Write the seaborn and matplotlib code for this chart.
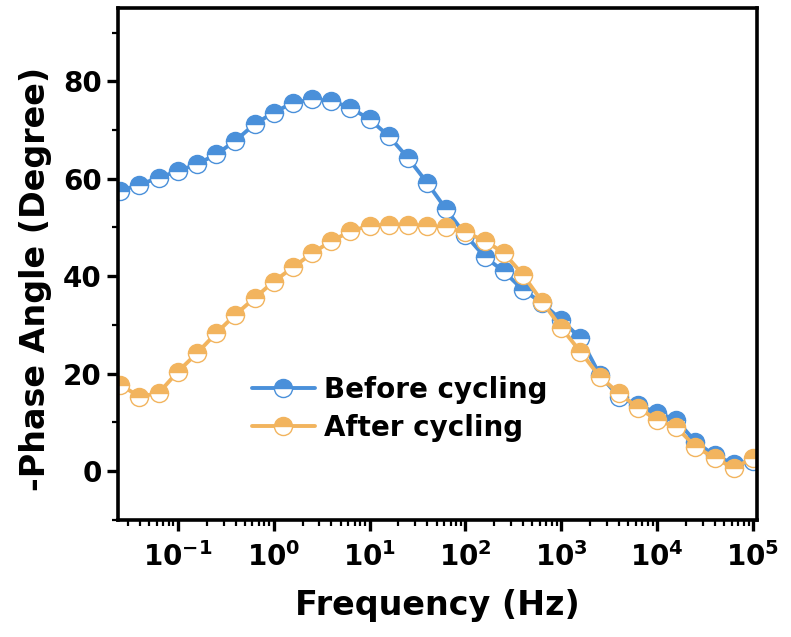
import matplotlib
matplotlib.use('Agg')
import matplotlib.pyplot as plt
from matplotlib.ticker import MultipleLocator, LogLocator, NullFormatter
import pandas as pd
import seaborn as sns

FREQ = [
    0.0251, 0.0398, 0.0631, 0.1, 0.1585, 0.251, 0.398, 0.631,
    1.0, 1.585, 2.51, 3.98, 6.31, 10.0, 15.85, 25.1, 39.8, 63.1,
    100.0, 158.5, 251.0, 398.0, 631.0, 1000.0, 1585.0, 2512.0, 3981.0, 6310.0,
    10000.0, 15849.0, 25119.0, 39811.0, 63096.0, 100000.0,
]

BEFORE = [
    57.5, 58.8, 60.2, 61.6, 63.0, 65.0, 67.8, 71.2,
    73.6, 75.6, 76.3, 76.0, 74.6, 72.2, 68.8, 64.3, 59.2, 53.7,
    48.5, 44.0, 41.0, 37.2, 34.5, 31.0, 27.3, 19.8, 15.2, 13.5,
    12.0, 10.5, 6.0, 3.2, 1.5, 2.0,
]

AFTER = [
    17.7, 15.3, 16.0, 20.4, 24.2, 28.3, 32.1, 35.5,
    38.9, 41.8, 44.7, 47.2, 49.2, 50.4, 50.6, 50.6, 50.3, 50.0,
    49.0, 47.3, 44.8, 40.3, 34.8, 29.4, 24.5, 19.4, 16.0, 13.0,
    10.5, 9.0, 5.0, 2.7, 0.6, 2.7,
]

XTICKS = [0.1, 1, 10, 100, 1000, 10000, 100000]
XTICKLABELS = ['$10^{-1}$', '$10^{0}$', '$10^{1}$', '$10^{2}$',
               '$10^{3}$', '$10^{4}$', '$10^{5}$']

SERIES = ['Before cycling', 'After cycling']
COLOURS = ['#4A90DA', '#F2B45E']

sns.set_style('ticks')
plt.rcParams['font.family'] = ['DejaVu Sans']
plt.rcParams['font.weight'] = 'bold'
plt.rcParams['mathtext.default'] = 'bf'
for key in ['text.color', 'axes.labelcolor', 'xtick.color', 'ytick.color', 'axes.edgecolor']:
    plt.rcParams[key] = 'black'

df = pd.DataFrame({'freq': FREQ, SERIES[0]: BEFORE, SERIES[1]: AFTER})

fig = plt.figure(figsize=(7.91, 6.37), dpi=100)
ax = fig.add_axes([0.149, 0.184, 0.808, 0.803])

for name, colour in zip(SERIES, COLOURS):
    sns.lineplot(data=df, x='freq', y=name, ax=ax, color=colour, label=name,
                 linewidth=2.8, marker='o', markersize=13, fillstyle='top',
                 markerfacecolor=colour, markerfacecoloralt='white',
                 markeredgecolor=colour, markeredgewidth=1.0)

ax.set_xscale('log')
ax.set_xlim(0.0237, 1.1e5)
ax.set_ylim(-10, 95)
ax.set_xticks(XTICKS)
ax.set_xticklabels(XTICKLABELS)
ax.xaxis.set_minor_locator(LogLocator(base=10, subs=[2, 3, 4, 5, 6, 7, 8, 9], numticks=20))
ax.xaxis.set_minor_formatter(NullFormatter())
ax.yaxis.set_major_locator(MultipleLocator(20))
ax.yaxis.set_minor_locator(MultipleLocator(10))

ax.tick_params(axis='both', which='major', labelsize=20, length=8, width=2.4, direction='out')
ax.tick_params(axis='x', which='major', pad=8)
ax.tick_params(axis='both', which='minor', length=4, width=1.6, direction='out')
for spine in ax.spines.values():
    spine.set_linewidth(2.6)
    spine.set_visible(True)

ax.set_xlabel('Frequency (Hz)', fontsize=24, fontweight='bold', labelpad=12)
ax.set_ylabel('-Phase Angle (Degree)', fontsize=24, fontweight='bold')
ax.yaxis.set_label_coords(-0.103, 0.47)

leg = ax.legend(loc='upper left', bbox_to_anchor=(0.17, 0.33), frameon=False,
                fontsize=20, handlelength=2.3, handletextpad=0.3, labelspacing=0.35)
for t in leg.get_texts():
    t.set_fontweight('bold')

fig.savefig('out.png', dpi=100)
